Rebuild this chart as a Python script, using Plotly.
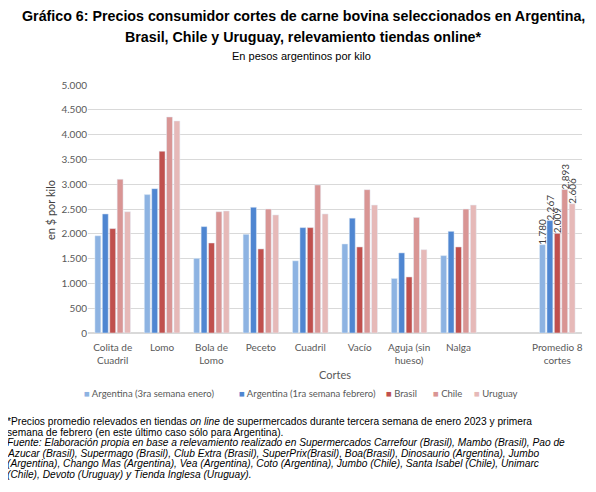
import plotly.graph_objects as go

categories = ["Colita de<br>Cuadril", "Lomo", "Bola de<br>Lomo", "Peceto", "Cuadril", "Vacío",
              "Aguja (sin<br>hueso)", "Nalga", " ", "Promedio 8<br>cortes"]
arg_ene = [1960, 2790, 1505, 1990, 1455, 1795, 1100, 1560, None, 1780]
arg_feb = [2400, 2910, 2145, 2535, 2125, 2315, 1615, 2050, None, 2267]
brasil = [2105, 3665, 1815, 1695, 2125, 1735, 1130, 1735, None, 2009]
chile = [3100, 4355, 2445, 2500, 2985, 2890, 2330, 2500, None, 2893]
uruguay = [2445, 4275, 2460, 2380, 2400, 2580, 1680, 2580, None, 2606]

series = [
    ("Argentina (3ra semana enero)", arg_ene, "#8DB3E2"),
    ("Argentina (1ra semana febrero)", arg_feb, "#4F86D1"),
    ("Brasil", brasil, "#C0504D"),
    ("Chile", chile, "#D99594"),
    ("Uruguay", uruguay, "#E6B9B8"),
]

def fmt(v):
    return f"{v:,}".replace(",", ".")

fig = go.Figure()
for name, vals, color in series:
    texts = ["" for _ in vals]
    texts[-1] = fmt(vals[-1])
    fig.add_trace(go.Bar(
        name=name, x=categories, y=vals, marker_color=color,
        text=texts, textposition="outside", textangle=-90, constraintext="none",
        textfont=dict(size=10, color="#404040", family="Lato"),
        cliponaxis=False, showlegend=False,
    ))

# page has an 8px body margin, so the figure is 8px smaller and offset
fig.update_layout(
    width=588, height=484,
    margin=dict(l=80, r=14, t=77, b=159),
    paper_bgcolor="white", plot_bgcolor="white",
    barmode="group", bargap=0.25, bargroupgap=0.2,
    separators=",.",
    showlegend=False,
    font=dict(family="Lato", color="#595959"),
)
fig.update_xaxes(type="category", showline=False, showgrid=False, ticks="", ticklabelstandoff=7,
                 tickfont=dict(size=10, color="#595959", family="Lato"))
fig.update_yaxes(range=[0, 5000], dtick=500, tickformat=",d", showgrid=True, gridcolor="#D9D9D9",
                 zeroline=True, zerolinecolor="#D9D9D9", showline=False, ticks="",
                 tickfont=dict(size=10, color="#595959", family="Lato"))

H = 248.0
def py(pix):
    return (333 - pix) / H
def px(pix):
    return (pix - 88) / 494.0

anns = [
    dict(text="<b>Gráfico 6: Precios consumidor cortes de carne bovina seleccionados en Argentina,</b>",
         x=303, y=16, size=14.25, fam="Liberation Sans", color="#000000"),
    dict(text="<b>Brasil, Chile y Uruguay, relevamiento tiendas online*</b>",
         x=303, y=37, size=14.25, fam="Liberation Sans", color="#000000"),
    dict(text="En pesos argentinos por kilo", x=301, y=56, size=11, fam="Liberation Sans", color="#000000"),
    dict(text="Cortes", x=335, y=374, size=11, fam="Lato", color="#595959"),
]
for a in anns:
    fig.add_annotation(text=a["text"], xref="paper", yref="paper",
                       x=px(a["x"]), y=py(a["y"]), xanchor="center", yanchor="middle",
                       showarrow=False, font=dict(size=a["size"], family=a["fam"], color=a["color"]))

fig.add_annotation(text="en $ por kilo", xref="paper", yref="paper", x=px(50), y=py(210),
                   xanchor="center", yanchor="middle", textangle=-90, showarrow=False,
                   font=dict(size=11, family="Lato", color="#404040"))

# legend drawn as text entries
legend_x = [82, 237, 384, 431, 472]
for (name, vals, color), lx in zip(series, legend_x):
    fig.add_annotation(text=f"<span style='color:{color}'>■</span> {name}", xref="paper", yref="paper",
                       x=px(lx), y=py(393), xanchor="left", yanchor="middle", showarrow=False,
                       font=dict(size=9.5, family="Lato", color="#595959"))

foot_lines = [
    "*Precios promedio relevados en tiendas <i>on line</i> de supermercados durante tercera semana de enero 2023 y primera",
    "semana de febrero (en este último caso sólo para Argentina).",
    "<i>Fuente: Elaboración propia en base a relevamiento realizado en Supermercados Carrefour (Brasil), Mambo (Brasil), Pao de</i>",
    "<i>Azucar (Brasil), Supermago (Brasil), Club Extra (Brasil), SuperPrix(Brasil), Boa(Brasil), Dinosaurio (Argentina), Jumbo</i>",
    "<i>(Argentina), Chango Mas (Argentina), Vea (Argentina), Coto (Argentina), Jumbo (Chile), Santa Isabel (Chile), Unimarc</i>",
    "<i>(Chile), Devoto (Uruguay) y Tienda Inglesa (Uruguay).</i>",
]
for i, line in enumerate(foot_lines):
    fig.add_annotation(text=line, xref="paper", yref="paper", x=px(5), y=py(421.7 + i * 10.5),
                       xanchor="left", yanchor="middle", align="left", showarrow=False,
                       font=dict(size=10.2, family="Liberation Sans", color="#000000"))

fig.write_html("out.html")
